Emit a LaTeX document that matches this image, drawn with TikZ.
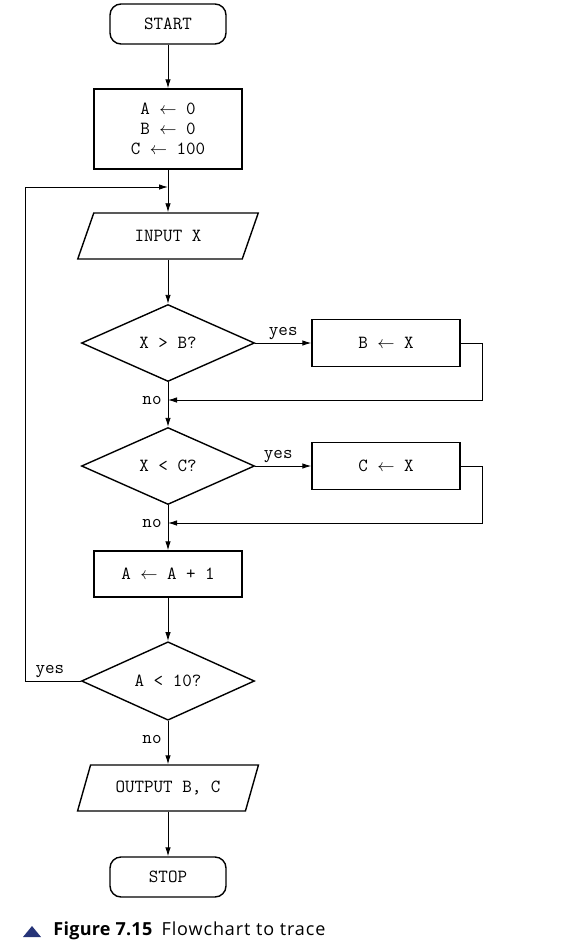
\documentclass[tikz,border=0pt]{standalone}
\usepackage{fontspec}
\setsansfont{Open Sans}
\usetikzlibrary{shapes.geometric,arrows.meta}
\definecolor{capblue}{RGB}{38,52,120}
\newcommand{\assignarrow}{$\leftarrow$}
\begin{document}
\begin{tikzpicture}[x=1pt,y=-1pt,
    line width=0.9pt,
    >={Latex[length=9pt,width=5.5pt]},
    every node/.style={font=\ttfamily\fontsize{18.5}{20}\selectfont, inner sep=0pt},
    terminal/.style={rectangle, rounded corners=11pt, draw, line width=1.4pt,
      minimum width=116pt, minimum height=40pt},
    process/.style={rectangle, draw, line width=1.4pt, minimum width=148pt,
      align=center},
    io/.style={trapezium, trapezium left angle=58, trapezium right angle=122,
      trapezium stretches=true, draw, line width=1.4pt,
      minimum width=181pt, minimum height=46pt},
    decision/.style={diamond, draw, line width=1.4pt,
      minimum width=173pt, minimum height=77pt}]

      \useasboundingbox (0,0) rectangle (576,948);

      % flowchart boxes
      \node[terminal] (1)  at (168,24)  {START};
      \node[process, minimum height=80pt] (2) at (168,129)
        {A \assignarrow{} 0\\B \assignarrow{} 0\\C \assignarrow{} 100};
      \node[io]       (3)  at (168,236) {INPUT X};
      \node[decision] (4)  at (168,343) {X > B?};
      \node[process, minimum height=47pt] (5) at (386,343) {B \assignarrow{} X};
      \node[decision] (6)  at (168,466) {X < C?};
      \node[process, minimum height=47pt] (7) at (386,466) {C \assignarrow{} X};
      \node[process, minimum height=46pt] (8) at (168,574) {A \assignarrow{} A + 1};
      \node[decision] (9)  at (168,681) {A < 10?};
      \node[io]       (10) at (168,788) {OUTPUT B, C};
      \node[terminal] (11) at (168,877) {STOP};

      % joining points
      \coordinate (j0) at (168,187);
      \coordinate (j1) at (168,400);
      \coordinate (j2) at (168,523);
      \coordinate (j3) at (25,681);

      % main flow
      \draw[->] (1) -- (2);
      \draw[->] (2) -- (3);
      \draw[->] (3.south -| j0) -- (4.north);
      \draw[->] (4) -- (6);
      \draw[->] (6) -- (8);
      \draw[->] (8) -- (9);
      \draw[->] (9.south) -- (10.north -| j0);
      \draw[->] (10.south -| j0) -- (11.north);

      % branches
      \draw[->] (4) -- node[above, xshift=0pt, yshift=3pt] {yes} (5);
      \draw[->] (6) -- node[above, xshift=-5pt, yshift=3pt] {yes} (7);
      \draw[->] (5.east) -- ++(22,0) |- (j1);
      \draw[->] (7.east) -- ++(22,0) |- (j2);
      \draw[->] (9.west) -- node[above, xshift=-3pt, yshift=3pt] {yes} (j3) |- (j0);

      % labels on the no branches
      \node[anchor=east] (n1) at ([xshift=-6pt]j1) {no};
      \node[anchor=east] (n2) at ([xshift=-6pt]j2) {no};
      \node[anchor=east] (n3) at (162,739) {no};

      % caption
      \fill[capblue] (23,937) -- (41,937) -- (32,926) -- cycle;
      \node[anchor=west, font=\sffamily\fontsize{18}{20}\selectfont] (cap) at (53,931)
        {{\addfontfeatures{LetterSpace=1.5}\textbf{Figure 7.15}}\hspace{9pt}%
         {\addfontfeatures{LetterSpace=5}Flowchart to trace}};

    \end{tikzpicture}
\end{document}
